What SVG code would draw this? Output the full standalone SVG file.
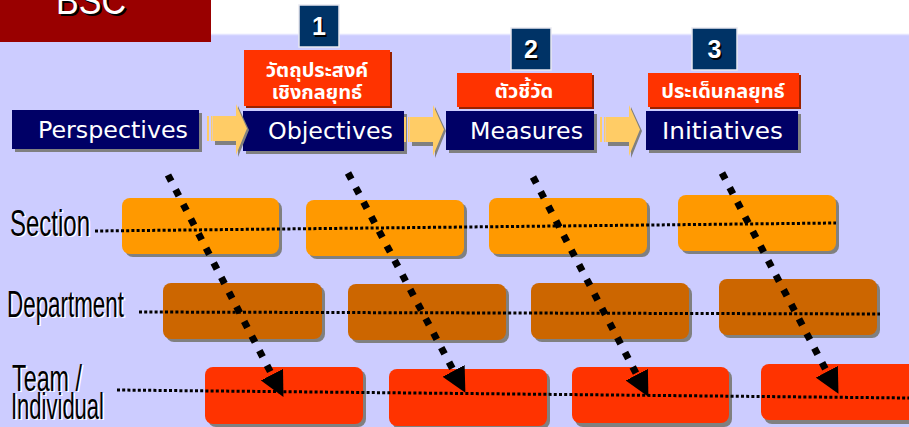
<svg xmlns="http://www.w3.org/2000/svg" width="909" height="427" viewBox="0 0 909 427">
  <style>
    .navy { fill: #000066; }
    .nshadow { fill: #808080; }
    .navytxt { font-family: "DejaVu Sans", Verdana, sans-serif; font-size: 23px; fill: #ffffff; text-anchor: middle; }
    .numbox { fill: #003366; stroke: #e8e8f0; stroke-width: 1.5; }
    .numtxt { font-family: "Liberation Sans", Arial, sans-serif; font-size: 25px; font-weight: bold; text-anchor: middle; }
    .redbox { fill: #ff3300; }
    .redshadow { fill: #992200; }
    .thai { font-family: "Noto Sans Thai", Tahoma, "Noto Sans", "DejaVu Sans", sans-serif; font-size: 20px; font-weight: bold; fill: #ffffff; text-anchor: middle; }
    .lvl { font-family: "Liberation Sans Narrow", "Liberation Sans", Arial, sans-serif; font-size: 36px; }
    .rshadow { fill: #808080; }
    .sec { fill: #ff9900; }
    .dep { fill: #cc6600; }
    .team { fill: #ff3300; }
    .hdot { fill: none; stroke: #000000; stroke-width: 3; stroke-dasharray: 3 2.2; }
    .ddot { fill: none; stroke: #000000; stroke-width: 7; stroke-dasharray: 7 9.5; }
  </style>
  <defs>
    <marker id="ah" markerUnits="userSpaceOnUse" markerWidth="26" markerHeight="26" refX="0" refY="13" orient="auto" viewBox="0 0 26 26">
      <path d="M0,0.5 L25,13 L0,25.5 z" fill="#000000"/>
    </marker>
    <g id="yarrow">
      <polygon points="8,14 31,14 31,2 42,26 31,53 31,41 8,41" fill="#808080"/>
      <rect x="0" y="12" width="2" height="25" fill="#ffcc66"/>
      <rect x="4" y="12" width="1.5" height="25" fill="#ffcc66"/>
      <polygon points="6,12 29,12 29,0 40,24.5 29,51 29,37 6,37" fill="#ffcc66"/>
    </g>
  </defs>

  <!-- background -->
  <rect x="0" y="0" width="909" height="427" fill="#ffffff"/>
  <rect x="0" y="35" width="909" height="392" fill="#ccccff"/>
  <line x1="0" y1="34.5" x2="909" y2="34.5" stroke="#e4e4ff" stroke-width="1.5"/>

  <!-- BSC title -->
  <g id="title">
    <rect x="0" y="0" width="211" height="42" fill="#990000"/>
    <text x="93" y="16" font-family="Liberation Sans, Arial, sans-serif" font-size="38" fill="#000000" text-anchor="middle" textLength="70" lengthAdjust="spacingAndGlyphs">BSC</text>
    <text x="91" y="14" font-family="Liberation Sans, Arial, sans-serif" font-size="38" fill="#ffffff" text-anchor="middle" textLength="70" lengthAdjust="spacingAndGlyphs">BSC</text>
  </g>

  <!-- number boxes -->
  <g id="num1">
    <rect class="numbox" x="299" y="5" width="40" height="42"/>
    <text class="numtxt" x="320.5" y="36.5" fill="#000000">1</text>
    <text class="numtxt" x="319" y="35" fill="#ffffff">1</text>
  </g>
  <g id="num2">
    <rect class="numbox" x="511" y="28" width="40" height="42"/>
    <text class="numtxt" x="532.5" y="59.5" fill="#000000">2</text>
    <text class="numtxt" x="531" y="58" fill="#ffffff">2</text>
  </g>
  <g id="num3">
    <rect class="numbox" x="692" y="28" width="45" height="42"/>
    <text class="numtxt" x="716" y="59.5" fill="#000000">3</text>
    <text class="numtxt" x="714.5" y="58" fill="#ffffff">3</text>
  </g>

  <!-- red labels -->
  <g id="lbl1">
    <rect class="redshadow" x="246" y="52" width="146" height="56"/>
    <rect class="redbox" x="244" y="50" width="146" height="56"/>
    <text class="thai" x="317" y="77">วัตถุประสงค์</text>
    <text class="thai" x="317" y="99">เชิงกลยุทธ์</text>
  </g>
  <g id="lbl2">
    <rect class="redshadow" x="459" y="75" width="135" height="34"/>
    <rect class="redbox" x="457" y="73" width="135" height="34"/>
    <text class="thai" x="524" y="98">ตัวชี้วัด</text>
  </g>
  <g id="lbl3">
    <rect class="redshadow" x="650" y="75" width="151" height="34"/>
    <rect class="redbox" x="648" y="73" width="151" height="34"/>
    <text class="thai" x="723" y="98">ประเด็นกลยุทธ์</text>
  </g>

  <!-- navy boxes -->
  <g id="perspectives">
    <rect class="nshadow" x="15" y="113" width="187" height="39"/>
    <rect class="navy" x="12" y="110" width="187" height="39"/>
    <text class="navytxt" x="113" y="138" textLength="150" lengthAdjust="spacingAndGlyphs">Perspectives</text>
  </g>
  <g id="objectives">
    <rect class="nshadow" x="246" y="114" width="161" height="40"/>
    <rect class="navy" x="243" y="111" width="161" height="40"/>
    <text class="navytxt" x="330.5" y="139" textLength="125" lengthAdjust="spacingAndGlyphs">Objectives</text>
  </g>
  <g id="measures">
    <rect class="nshadow" x="449" y="114" width="148" height="39"/>
    <rect class="navy" x="446" y="111" width="148" height="39"/>
    <text class="navytxt" x="526.5" y="139" textLength="113" lengthAdjust="spacingAndGlyphs">Measures</text>
  </g>
  <g id="initiatives">
    <rect class="nshadow" x="649" y="114" width="152" height="39"/>
    <rect class="navy" x="646" y="111" width="152" height="39"/>
    <text class="navytxt" x="722.5" y="139" textLength="121" lengthAdjust="spacingAndGlyphs">Initiatives</text>
  </g>

  <!-- level labels -->
  <g id="lbl-section">
    <text class="lvl" x="11.5" y="237" fill="#ffffff" textLength="80" lengthAdjust="spacingAndGlyphs">Section</text>
    <text class="lvl" x="10" y="236" fill="#000000" textLength="80" lengthAdjust="spacingAndGlyphs">Section</text>
  </g>
  <g id="lbl-department">
    <text class="lvl" x="8.5" y="318" fill="#ffffff" textLength="117" lengthAdjust="spacingAndGlyphs">Department</text>
    <text class="lvl" x="7" y="317" fill="#000000" textLength="117" lengthAdjust="spacingAndGlyphs">Department</text>
  </g>
  <g id="lbl-team">
    <text class="lvl" x="13.5" y="392" fill="#ffffff" textLength="70" lengthAdjust="spacingAndGlyphs">Team /</text>
    <text class="lvl" x="12" y="391" fill="#000000" textLength="70" lengthAdjust="spacingAndGlyphs">Team /</text>
    <text class="lvl" x="12.5" y="420" fill="#ffffff" textLength="93" lengthAdjust="spacingAndGlyphs">Individual</text>
    <text class="lvl" x="11" y="419" fill="#000000" textLength="93" lengthAdjust="spacingAndGlyphs">Individual</text>
  </g>

  <!-- section row -->
  <g id="sec1"><rect class="rshadow" x="125" y="201" width="157" height="56" rx="8"/><rect class="sec" x="122" y="198" width="157" height="56" rx="8"/></g>
  <g id="sec2"><rect class="rshadow" x="309" y="203" width="158" height="56" rx="8"/><rect class="sec" x="306" y="200" width="158" height="56" rx="8"/></g>
  <g id="sec3"><rect class="rshadow" x="492" y="201" width="158" height="56" rx="8"/><rect class="sec" x="489" y="198" width="158" height="56" rx="8"/></g>
  <g id="sec4"><rect class="rshadow" x="681" y="198" width="158" height="56" rx="8"/><rect class="sec" x="678" y="195" width="158" height="56" rx="8"/></g>

  <!-- department row -->
  <g id="dep1"><rect class="rshadow" x="166" y="286" width="159" height="56" rx="8"/><rect class="dep" x="163" y="283" width="159" height="56" rx="8"/></g>
  <g id="dep2"><rect class="rshadow" x="351" y="287" width="158" height="56" rx="8"/><rect class="dep" x="348" y="284" width="158" height="56" rx="8"/></g>
  <g id="dep3"><rect class="rshadow" x="534" y="286" width="158" height="56" rx="8"/><rect class="dep" x="531" y="283" width="158" height="56" rx="8"/></g>
  <g id="dep4"><rect class="rshadow" x="722" y="282" width="158" height="56" rx="8"/><rect class="dep" x="719" y="279" width="158" height="56" rx="8"/></g>

  <!-- team row -->
  <g id="team1"><rect class="rshadow" x="208" y="370" width="158" height="57" rx="8"/><rect class="team" x="205" y="367" width="158" height="57" rx="8"/></g>
  <g id="team2"><rect class="rshadow" x="392" y="372" width="158" height="57" rx="8"/><rect class="team" x="389" y="369" width="158" height="57" rx="8"/></g>
  <g id="team3"><rect class="rshadow" x="575" y="370" width="157" height="57" rx="8"/><rect class="team" x="572" y="367" width="157" height="56" rx="8"/></g>
  <g id="team4"><rect class="rshadow" x="764" y="367" width="160" height="57" rx="8"/><rect class="team" x="761" y="364" width="160" height="56" rx="8"/></g>

  <!-- connectors -->
  <g id="connectors">
    <use href="#yarrow" x="207" y="104"/>
    <use href="#yarrow" x="404" y="105"/>
    <use href="#yarrow" x="600" y="105"/>

    <line class="hdot" x1="95" y1="231" x2="836" y2="223"/>
    <line class="hdot" x1="139" y1="312" x2="880" y2="314"/>
    <line class="hdot" x1="117" y1="390" x2="909" y2="398"/>

    <line class="ddot" x1="168" y1="175" x2="271.9" y2="374.7" marker-end="url(#ah)"/>
    <line class="ddot" x1="348" y1="173" x2="453.6" y2="370.8" marker-end="url(#ah)"/>
    <line class="ddot" x1="533" y1="177" x2="636.8" y2="374.7" marker-end="url(#ah)"/>
    <line class="ddot" x1="722" y1="173" x2="826.8" y2="371.7" marker-end="url(#ah)"/>
  </g>
</svg>
